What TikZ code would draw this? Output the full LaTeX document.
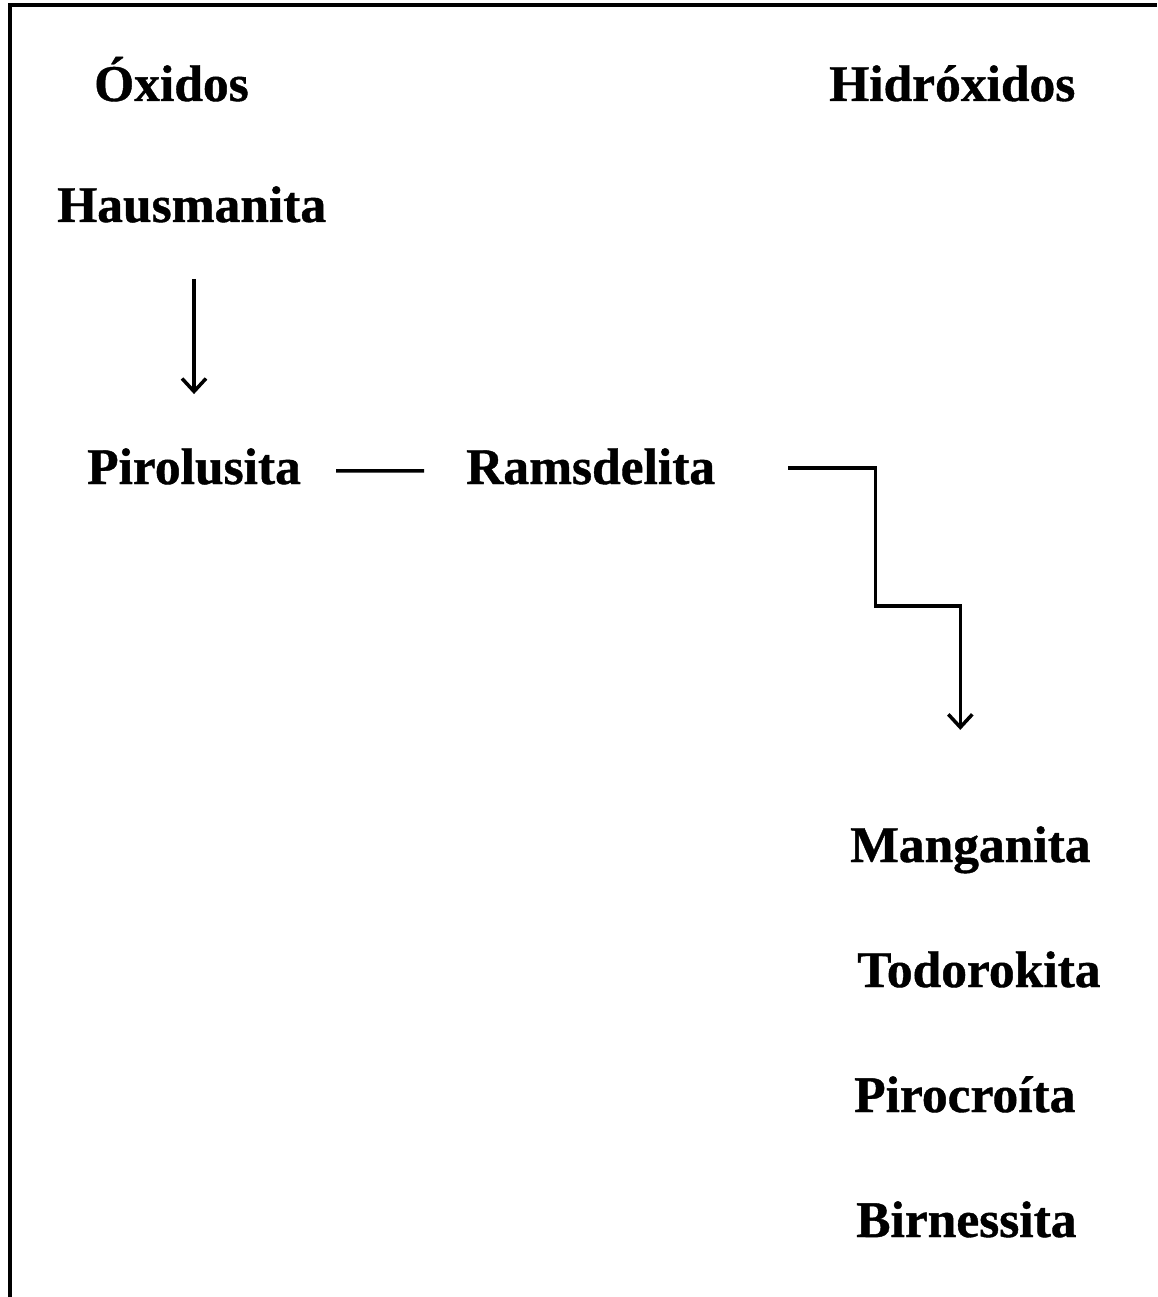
\documentclass[tikz,border=0pt]{standalone}
\usepackage{fontspec}
\setmainfont{Liberation Serif}[BoldFeatures={FakeBold=0.8}]
\usetikzlibrary{arrows.meta}
\begin{document}
\begin{tikzpicture}[x=1pt,y=-1pt,
  lbl/.style={anchor=base west,inner sep=0pt,font=\fontsize{51.5}{60}\selectfont\bfseries},
  conn/.style={line width=3.5pt},
  arr/.style={conn,-{Straight Barb[length=13pt,width=24pt,line width=3.5pt]}}]
\useasboundingbox (0,0) rectangle (1157,1297);
\draw[line width=4pt] (10,1297) -- (10,5.5) -- (1157,5.5);
\node[lbl] (ox) at (94,101) {Óxidos};
\node[lbl] (hid) at (829,101) {Hidróxidos};
\node[lbl] (haus) at (57,222) {Hausmanita};
\node[lbl] (piro) at (87,484) {Pirolusita};
\node[lbl] (rams) at (466,484) {Ramsdelita};
\node[lbl] (mang) at (850,862) {Manganita};
\node[lbl] (todo) at (857,987) {Todorokita};
\node[lbl] (pcro) at (854,1112) {Pirocroíta};
\node[lbl] (birn) at (856,1237) {Birnessita};
\draw[arr,shorten <=56pt,shorten >=54pt] (haus.south -| piro.north) -- (piro.north);
\draw[conn] ([xshift=35pt,yshift=-4.5pt]piro.east) -- ([xshift=-42pt,yshift=-4.5pt]rams.west);
\draw[arr] ([xshift=73pt,yshift=-1.5pt]rams.east) -- ++(87,0) -- ++(0,138) -- ++(85,0) -- ++(0,124) coordinate (tip);
\end{tikzpicture}
\end{document}
